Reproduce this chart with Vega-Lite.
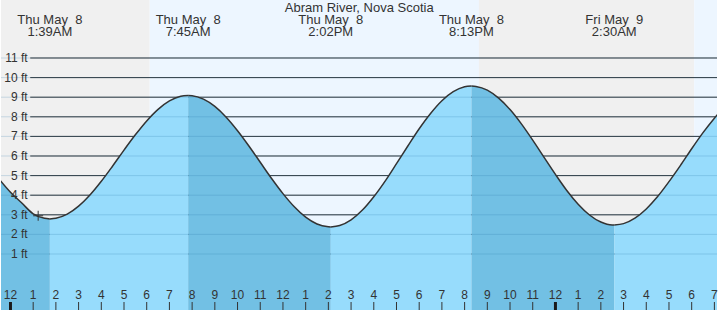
{
  "$schema": "https://vega.github.io/schema/vega-lite/v6.json",
  "width": 718,
  "height": 310,
  "autosize": {"type": "fit", "contains": "padding"},
  "padding": 0,
  "background": "#ffffff",
  "config": {"view": {"stroke": null}},
  "datasets": {
    "tide": [
      {"h": -0.5, "ft": 4.82, "seg": "F0", "dir": "falling"},
      {"h": 0, "ft": 4.15, "seg": "F0", "dir": "falling"},
      {"h": 0.5, "ft": 3.6, "seg": "F0", "dir": "falling"},
      {"h": 1.0, "ft": 3.05, "seg": "F0", "dir": "falling"},
      {"h": 1.5, "ft": 2.82, "seg": "F0", "dir": "falling"},
      {"h": 1.735, "ft": 2.79, "seg": "F0", "dir": "falling"},
      {"h": 1.735, "ft": 2.79, "seg": "R1", "dir": "rising"},
      {"h": 2, "ft": 2.82, "seg": "R1", "dir": "rising"},
      {"h": 2.5, "ft": 3.03, "seg": "R1", "dir": "rising"},
      {"h": 3, "ft": 3.44, "seg": "R1", "dir": "rising"},
      {"h": 3.5, "ft": 4.01, "seg": "R1", "dir": "rising"},
      {"h": 4, "ft": 4.71, "seg": "R1", "dir": "rising"},
      {"h": 4.5, "ft": 5.49, "seg": "R1", "dir": "rising"},
      {"h": 5, "ft": 6.30, "seg": "R1", "dir": "rising"},
      {"h": 5.5, "ft": 7.08, "seg": "R1", "dir": "rising"},
      {"h": 6, "ft": 7.79, "seg": "R1", "dir": "rising"},
      {"h": 6.5, "ft": 8.38, "seg": "R1", "dir": "rising"},
      {"h": 7, "ft": 8.81, "seg": "R1", "dir": "rising"},
      {"h": 7.5, "ft": 9.05, "seg": "R1", "dir": "rising"},
      {"h": 7.826, "ft": 9.09, "seg": "R1", "dir": "rising"},
      {"h": 7.826, "ft": 9.09, "seg": "F1", "dir": "falling"},
      {"h": 8, "ft": 9.08, "seg": "F1", "dir": "falling"},
      {"h": 8.5, "ft": 8.90, "seg": "F1", "dir": "falling"},
      {"h": 9, "ft": 8.53, "seg": "F1", "dir": "falling"},
      {"h": 9.5, "ft": 7.98, "seg": "F1", "dir": "falling"},
      {"h": 10, "ft": 7.29, "seg": "F1", "dir": "falling"},
      {"h": 10.5, "ft": 6.51, "seg": "F1", "dir": "falling"},
      {"h": 11, "ft": 5.68, "seg": "F1", "dir": "falling"},
      {"h": 11.5, "ft": 4.85, "seg": "F1", "dir": "falling"},
      {"h": 12, "ft": 4.08, "seg": "F1", "dir": "falling"},
      {"h": 12.5, "ft": 3.41, "seg": "F1", "dir": "falling"},
      {"h": 13, "ft": 2.88, "seg": "F1", "dir": "falling"},
      {"h": 13.5, "ft": 2.53, "seg": "F1", "dir": "falling"},
      {"h": 14, "ft": 2.39, "seg": "F1", "dir": "falling"},
      {"h": 14.106, "ft": 2.38, "seg": "F1", "dir": "falling"},
      {"h": 14.106, "ft": 2.38, "seg": "R2", "dir": "rising"},
      {"h": 14.5, "ft": 2.45, "seg": "R2", "dir": "rising"},
      {"h": 15, "ft": 2.74, "seg": "R2", "dir": "rising"},
      {"h": 15.5, "ft": 3.24, "seg": "R2", "dir": "rising"},
      {"h": 16, "ft": 3.92, "seg": "R2", "dir": "rising"},
      {"h": 16.5, "ft": 4.72, "seg": "R2", "dir": "rising"},
      {"h": 17, "ft": 5.61, "seg": "R2", "dir": "rising"},
      {"h": 17.5, "ft": 6.51, "seg": "R2", "dir": "rising"},
      {"h": 18, "ft": 7.39, "seg": "R2", "dir": "rising"},
      {"h": 18.5, "ft": 8.17, "seg": "R2", "dir": "rising"},
      {"h": 19, "ft": 8.82, "seg": "R2", "dir": "rising"},
      {"h": 19.5, "ft": 9.28, "seg": "R2", "dir": "rising"},
      {"h": 20, "ft": 9.53, "seg": "R2", "dir": "rising"},
      {"h": 20.3, "ft": 9.57, "seg": "R2", "dir": "rising"},
      {"h": 20.3, "ft": 9.57, "seg": "F2", "dir": "falling"},
      {"h": 20.5, "ft": 9.55, "seg": "F2", "dir": "falling"},
      {"h": 21, "ft": 9.36, "seg": "F2", "dir": "falling"},
      {"h": 21.5, "ft": 8.95, "seg": "F2", "dir": "falling"},
      {"h": 22, "ft": 8.37, "seg": "F2", "dir": "falling"},
      {"h": 22.5, "ft": 7.64, "seg": "F2", "dir": "falling"},
      {"h": 23, "ft": 6.81, "seg": "F2", "dir": "falling"},
      {"h": 23.5, "ft": 5.93, "seg": "F2", "dir": "falling"},
      {"h": 24, "ft": 5.06, "seg": "F2", "dir": "falling"},
      {"h": 24.5, "ft": 4.24, "seg": "F2", "dir": "falling"},
      {"h": 25, "ft": 3.54, "seg": "F2", "dir": "falling"},
      {"h": 25.5, "ft": 2.99, "seg": "F2", "dir": "falling"},
      {"h": 26, "ft": 2.63, "seg": "F2", "dir": "falling"},
      {"h": 26.5, "ft": 2.48, "seg": "F2", "dir": "falling"},
      {"h": 26.59, "ft": 2.48, "seg": "F2", "dir": "falling"},
      {"h": 26.59, "ft": 2.48, "seg": "R3", "dir": "rising"},
      {"h": 27, "ft": 2.55, "seg": "R3", "dir": "rising"},
      {"h": 27.5, "ft": 2.83, "seg": "R3", "dir": "rising"},
      {"h": 28, "ft": 3.30, "seg": "R3", "dir": "rising"},
      {"h": 28.5, "ft": 3.93, "seg": "R3", "dir": "rising"},
      {"h": 29, "ft": 4.69, "seg": "R3", "dir": "rising"},
      {"h": 29.5, "ft": 5.51, "seg": "R3", "dir": "rising"},
      {"h": 30, "ft": 6.37, "seg": "R3", "dir": "rising"},
      {"h": 30.5, "ft": 7.19, "seg": "R3", "dir": "rising"},
      {"h": 31, "ft": 7.93, "seg": "R3", "dir": "rising"},
      {"h": 31.2, "ft": 8.20, "seg": "R3", "dir": "rising"}
    ],
    "bands": [
      {"start": -0.5, "end": 6.13, "period": "night"},
      {"start": 6.13, "end": 20.63, "period": "day"},
      {"start": 20.63, "end": 30.11, "period": "night"},
      {"start": 30.11, "end": 31.5, "period": "day"}
    ],
    "grid": [
      {"ft": 1, "label": "1 ft"}, {"ft": 2, "label": "2 ft"}, {"ft": 3, "label": "3 ft"},
      {"ft": 4, "label": "4 ft"}, {"ft": 5, "label": "5 ft"}, {"ft": 6, "label": "6 ft"},
      {"ft": 7, "label": "7 ft"}, {"ft": 8, "label": "8 ft"}, {"ft": 9, "label": "9 ft"},
      {"ft": 10, "label": "10 ft"}, {"ft": 11, "label": "11 ft"}
    ],
    "hours": [
      {"h": 0, "label": "12", "kind": "midnight"}, {"h": 1, "label": "1", "kind": "hour"},
      {"h": 2, "label": "2", "kind": "hour"}, {"h": 3, "label": "3", "kind": "hour"},
      {"h": 4, "label": "4", "kind": "hour"}, {"h": 5, "label": "5", "kind": "hour"},
      {"h": 6, "label": "6", "kind": "hour"}, {"h": 7, "label": "7", "kind": "hour"},
      {"h": 8, "label": "8", "kind": "hour"}, {"h": 9, "label": "9", "kind": "hour"},
      {"h": 10, "label": "10", "kind": "hour"}, {"h": 11, "label": "11", "kind": "hour"},
      {"h": 12, "label": "12", "kind": "hour"}, {"h": 13, "label": "1", "kind": "hour"},
      {"h": 14, "label": "2", "kind": "hour"}, {"h": 15, "label": "3", "kind": "hour"},
      {"h": 16, "label": "4", "kind": "hour"}, {"h": 17, "label": "5", "kind": "hour"},
      {"h": 18, "label": "6", "kind": "hour"}, {"h": 19, "label": "7", "kind": "hour"},
      {"h": 20, "label": "8", "kind": "hour"}, {"h": 21, "label": "9", "kind": "hour"},
      {"h": 22, "label": "10", "kind": "hour"}, {"h": 23, "label": "11", "kind": "hour"},
      {"h": 24, "label": "12", "kind": "midnight"}, {"h": 25, "label": "1", "kind": "hour"},
      {"h": 26, "label": "2", "kind": "hour"}, {"h": 27, "label": "3", "kind": "hour"},
      {"h": 28, "label": "4", "kind": "hour"}, {"h": 29, "label": "5", "kind": "hour"},
      {"h": 30, "label": "6", "kind": "hour"}, {"h": 31, "label": "7", "kind": "hour"}
    ],
    "extremes": [
      {"h": 1.735, "label": "Thu May\u00a0\u00a08\n1:39AM"},
      {"h": 7.826, "label": "Thu May\u00a0\u00a08\n7:45AM"},
      {"h": 14.106, "label": "Thu May\u00a0\u00a08\n2:02PM"},
      {"h": 20.3, "label": "Thu May\u00a0\u00a08\n8:13PM"},
      {"h": 26.59, "label": "Fri May\u00a0\u00a09\n2:30AM"}
    ],
    "marker": [{"h": 1.22, "ft": 2.95}],
    "title": [{"h": 15.36, "text": "Abram River, Nova Scotia"}]
  },
  "layer": [
    {
      "data": {"name": "bands"},
      "mark": {"type": "rect", "clip": true},
      "encoding": {
        "x": {"field": "start", "type": "quantitative", "scale": {"domain": [-0.417, 31.115], "nice": false, "zero": false}, "axis": null},
        "x2": {"field": "end"},
        "y": {"datum": 14.5, "scale": {"domain": [-1.857, 13.959], "nice": false, "zero": false}, "axis": null},
        "y2": {"datum": -2.5},
        "color": {"field": "period", "type": "nominal", "scale": {"domain": ["night", "day", "falling", "rising"], "range": ["#f0f0f0", "#edf6ff", "#72c0e4", "#97dcfc"]}, "legend": null}
      }
    },
    {
      "data": {"name": "grid"},
      "mark": {"type": "rule", "color": "#2e2e2e", "strokeWidth": 1},
      "encoding": {
        "x": {"datum": 0.87, "scale": {"domain": [-0.417, 31.115], "nice": false, "zero": false}, "axis": null},
        "x2": {"datum": 31.115},
        "y": {"field": "ft", "type": "quantitative", "scale": {"domain": [-1.857, 13.959], "nice": false, "zero": false}, "axis": null}
      }
    },
    {
      "data": {"name": "tide"},
      "mark": {"type": "area", "interpolate": "monotone", "clip": true},
      "encoding": {
        "x": {"field": "h", "type": "quantitative", "scale": {"domain": [-0.417, 31.115], "nice": false, "zero": false}, "axis": null},
        "y": {"field": "ft", "type": "quantitative", "stack": null, "scale": {"domain": [-1.857, 13.959], "nice": false, "zero": false}, "axis": null},
        "y2": {"datum": -2.5},
        "color": {"field": "dir", "type": "nominal", "legend": null},
        "detail": {"field": "seg"}
      }
    },
    {
      "data": {"name": "grid"},
      "mark": {"type": "rule", "color": "#2a78a8", "strokeWidth": 1, "opacity": 0.22},
      "encoding": {
        "x": {"datum": -0.417},
        "x2": {"datum": 31.115},
        "y": {"field": "ft", "type": "quantitative"}
      }
    },
    {
      "data": {"name": "tide"},
      "mark": {"type": "line", "interpolate": "monotone", "clip": true, "color": "#333333", "strokeWidth": 1.5},
      "encoding": {
        "x": {"field": "h", "type": "quantitative"},
        "y": {"field": "ft", "type": "quantitative"},
        "detail": {"field": "seg"}
      }
    },
    {
      "data": {"name": "marker"},
      "mark": {"type": "point", "shape": "M-1,0L1,0M0,-1L0,1", "filled": false, "stroke": "#333333", "strokeWidth": 1, "size": 100, "opacity": 1},
      "encoding": {
        "x": {"field": "h", "type": "quantitative"},
        "y": {"field": "ft", "type": "quantitative"}
      }
    },
    {
      "data": {"name": "grid"},
      "mark": {"type": "text", "align": "right", "baseline": "middle", "font": "Liberation Sans", "fontSize": 12, "color": "#333333"},
      "encoding": {
        "x": {"datum": 0.755},
        "y": {"field": "ft", "type": "quantitative"},
        "text": {"field": "label"}
      }
    },
    {
      "data": {"name": "hours"},
      "mark": {"type": "rule", "clip": true},
      "encoding": {
        "x": {"field": "h", "type": "quantitative"},
        "y": {"datum": -1.449},
        "y2": {"datum": -2.5},
        "strokeWidth": {"field": "kind", "type": "nominal", "scale": {"domain": ["midnight", "hour"], "range": [3, 1]}, "legend": null},
        "stroke": {"field": "kind", "type": "nominal", "scale": {"domain": ["midnight", "hour"], "range": ["#1a1a1a", "#333333"]}, "legend": null}
      }
    },
    {
      "data": {"name": "hours"},
      "mark": {"type": "text", "align": "center", "baseline": "alphabetic", "font": "Liberation Sans", "fontSize": 12, "color": "#333333"},
      "encoding": {
        "x": {"field": "h", "type": "quantitative"},
        "y": {"datum": -1.31},
        "text": {"field": "label"}
      }
    },
    {
      "data": {"name": "extremes"},
      "mark": {"type": "text", "align": "center", "baseline": "alphabetic", "lineBreak": "\n", "lineHeight": 11.7, "font": "Liberation Sans", "fontSize": 13, "color": "#333333"},
      "encoding": {
        "x": {"field": "h", "type": "quantitative"},
        "y": {"datum": 12.73},
        "text": {"field": "label"}
      }
    },
    {
      "data": {"name": "title"},
      "mark": {"type": "text", "align": "center", "baseline": "alphabetic", "font": "Liberation Sans", "fontSize": 13, "color": "#333333"},
      "encoding": {
        "x": {"field": "h", "type": "quantitative"},
        "y": {"datum": 13.36},
        "text": {"field": "text"}
      }
    }
  ]
}
